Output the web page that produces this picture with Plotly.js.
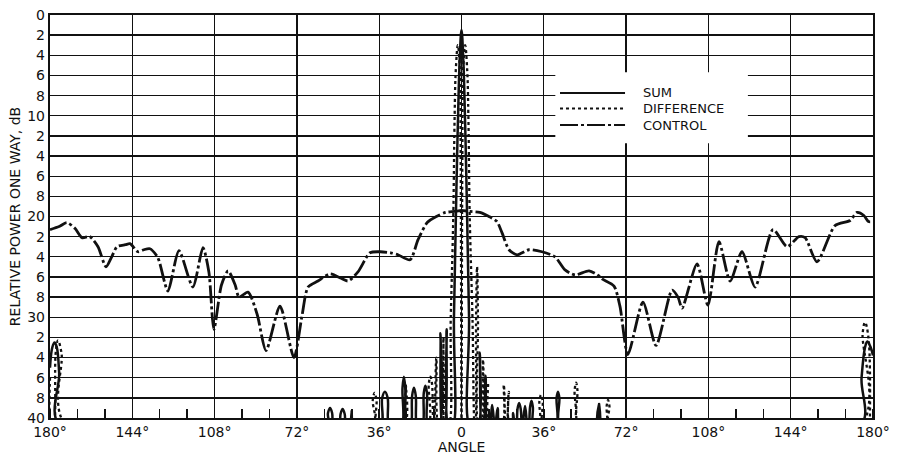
<!DOCTYPE html>
<html>
<head>
<meta charset="utf-8">
<script src="https://cdn.plot.ly/plotly-3.0.1.min.js"></script>
<style>
html,body{margin:0;padding:0;background:#fff;}
#chart{width:899px;height:455px;}
</style>
</head>
<body>
<div id="chart"></div>
<script>
// ---- Data (angle in degrees, relative power in dB; nulls below 40 dB are off-chart) ----
var ctrlAngle = [-180,-176,-172.6,-169,-166,-162.6,-159,-155.5,-153,-150.7,-147,-145,-141.5,-139,-136.3,-133,-131.9,-128.4,-123.6,-117.5,-113.1,-110.5,-108.3,-105,-102.1,-99,-97.3,-93.4,-89.4,-85.5,-79.4,-73.3,-69.8,-67.1,-62.8,-57.5,-53,-49.6,-45.3,-40,-35.6,-31,-27.8,-22.5,-19,-15,-11,-7,-3,0,3.7,8,12,15.5,17.7,20.8,24.3,29.5,35.2,40.9,45.3,49.7,55.8,60.1,61.5,66.7,69.3,72.8,79.4,85.1,92.1,94.7,96.5,103,107.8,112.6,117.5,122.7,128.4,136.3,142.4,147.6,150.3,155.5,163.4,170,173,176,178,180];
var ctrlDb    = [21.3,21.0,20.6,21.2,22.1,22.0,23.0,25.0,24.0,23.0,22.8,22.7,23.5,23.3,23.2,24.0,24.7,27.4,23.4,27.0,23.1,25.5,31.2,26.8,25.4,26.8,28.0,27.5,29.7,33.3,28.9,34.0,29.9,27.0,26.4,25.7,26.1,26.4,25.5,23.6,23.5,23.6,23.8,24.3,22.3,20.6,20.0,19.6,19.5,19.4,19.5,19.6,20.0,20.5,21.6,23.3,23.8,23.3,23.5,24.0,25.3,25.8,25.4,25.9,26.2,26.9,28.9,33.7,28.5,32.8,27.3,28.0,29.1,24.7,28.8,22.5,26.4,23.5,27.0,21.3,23.0,22.0,22.1,24.5,20.9,20.4,19.6,19.9,20.5,20.5];

var sumAngle = [-180,-179,-178,-177,-176,-175,
  -59.1,-58.4,-57.5,-56.6,-55.9, -53.6,-52.9,-52,-51.1,-50.4, -48.5,-48,-47.5,
  -35.7,-34.7,-33.5,-32.3,-31.3, -26.5,-25.8,-25.2,-24.6,-23.9,
  -22.4,-21.6,-20.8,-20,-19.2, -17.3,-16.5,-15.8,-15.1,-14.3,
  -10.2,-9.2,-8.2, -7.5,-6.5,-5.5,
  -4,-3.3,-2.2,-1.5,-0.8,0,0.8,1.5,2.2,3.3,4,
  7,8,9, 9.5,10.5,11.5, 12.2,13.4,14.6, 14.7,15.8,17, 21.8,22.6,23.4,
  23.9,24.5,25.2,25.9,26.5, 26.6,27.8,29, 29.3,30,30.6,31.2,31.9,
  41,41.6,42.2,42.8,43.4, 59.6,60.2,60.8,
  173.8,175,176.5,177.5,179,180];
var sumDb = [35.0,33.0,32.5,33.0,35.5,41,
  41,39.5,39.0,39.5,41, 41,39.6,39.1,39.6,41, 41,39.3,41,
  41,38.0,37.4,38.0,41, 41,37.0,35.9,37.0,41,
  41,37.8,37.0,37.8,41, 41,37.5,36.8,37.5,41,
  41,31.6,41, 41,31.2,41,
  41,30,17,10,4.5,1.5,4.5,10,17,30,41,
  41,33.5,41, 41,35.8,41, 41,38.7,41, 41,39.0,41, 41,39.5,41,
  41,39.1,38.5,39.1,41, 41,38.8,41, 41,38.9,38.3,38.9,41,
  41,38.0,37.4,38.0,41, 41,38.6,41,
  41,36,33,32.4,33,33.8];

var diffAngle = [-180,-179.4, -178.6,-177.5,-176.5,-175,-172,
  -39.5,-38.8,-38,-37.2,-36.5, -25.4,-24.3,-23.2,
  -15,-14.3,-13.6,-12.9,-12.2, -12.1,-11,-9.9, -8.8,-7.9,-7,
  -5.8,-4.7,-3.6,-3,-2.5,-1.6,-0.8,-0.35,0,0.35,0.8,1.6,2.5,3,3.6,4.8,5.9,
  6,6.4,6.8,7.2,7.6, 8.4,9.4,10.4, 10.6,11.6,12.6,
  17.4,18.5,19.5, 19.7,20.7,21.8,
  33.4,34.1,34.8,35.5,36.2, 48.8,49.5,50.1,50.7,51.4, 62.8,63.5,64.1,64.7,65.4,
  173.8,175.5,176.5,178,178.6];
var diffDb = [36,41, 41,33.5,32.3,33.5,41,
  41,38.2,37.5,38.2,41, 41,36.6,41,
  41,36.6,35.9,36.6,41, 41,34,41, 41,32,41,
  41,30,20,10,5.5,3.0,5,15,41,15,5,3.0,5.5,10,20,30,41,
  41,30,25,30,41, 41,34.2,41, 41,36.5,41,
  41,36.7,41, 41,37.4,41,
  41,38.3,37.7,38.3,41, 41,37.2,36.5,37.2,41, 41,38.8,38.2,38.8,41,
  41,31.5,30.5,32,41];

var xTickVals = [-180,-144,-108,-72,-36,0,36,72,108,144,180];
var xTickText = ['180°','144°','108°','72°','36°','0','36°','72°','108°','144°','180°'];
var yTickVals = [0,2,4,6,8,10,12,14,16,18,20,22,24,26,28,30,32,34,36,38,40];
var yTickText = ['0','2','4','6','8','10','2','4','6','8','20','2','4','6','8','30','2','4','6','8','40'];
var seriesNames = ['SUM','DIFFERENCE','CONTROL'];

var FONT = 'DejaVu Sans, Liberation Sans, Arial, sans-serif';
var INK = '#111111';
var DASH_SUM = 'solid', DASH_DIFF = 'dot', DASH_CTRL = '18px,3px,3px,3px';

var traces = [
  {x: sumAngle, y: sumDb, name: seriesNames[0], mode: 'lines', type: 'scatter',
   line: {color: INK, width: 2.5, dash: DASH_SUM, shape: 'spline', smoothing: 1.1}},
  {x: diffAngle, y: diffDb, name: seriesNames[1], mode: 'lines', type: 'scatter',
   line: {color: INK, width: 2.3, dash: DASH_DIFF, shape: 'spline', smoothing: 1.1}},
  {x: ctrlAngle, y: ctrlDb, name: seriesNames[2], mode: 'lines', type: 'scatter',
   line: {color: INK, width: 2.8, dash: DASH_CTRL, shape: 'spline', smoothing: 0.7}}
];

// legend drawn as a key in paper coordinates
var keyX0 = 0.6197, keyX1 = 0.6987, keyTextX = 0.7175;
var keyY = [0.8065, 0.768, 0.727];
var keyDash = [DASH_SUM, DASH_DIFF, DASH_CTRL];
var keyShapes = [
  {type: 'rect', xref: 'paper', yref: 'paper', x0: 0.614, x1: 0.848, y0: 0.682, y1: 0.858,
   fillcolor: '#ffffff', line: {width: 0}, layer: 'above'}
];
var keyAnn = [];
for (var i = 0; i < seriesNames.length; i++) {
  keyShapes.push({type: 'line', xref: 'paper', yref: 'paper', x0: keyX0, x1: keyX1, y0: keyY[i], y1: keyY[i],
                  line: {color: INK, width: 2, dash: keyDash[i]}, layer: 'above'});
  keyAnn.push({xref: 'paper', yref: 'paper', x: keyTextX, y: keyY[i], xanchor: 'left', yanchor: 'middle',
               text: seriesNames[i], showarrow: false, font: {family: FONT, size: 13, color: INK}});
}

var layout = {
  width: 899, height: 455,
  margin: {l: 50, r: 26, t: 15, b: 37},
  paper_bgcolor: '#ffffff', plot_bgcolor: '#ffffff',
  font: {family: FONT, color: INK, size: 13},
  showlegend: false,
  xaxis: {
    range: [-180, 180], tickmode: 'array', tickvals: xTickVals, ticktext: xTickText,
    showgrid: true, gridcolor: INK, gridwidth: 1.4, zeroline: false,
    showline: true, linecolor: INK, linewidth: 2.4, mirror: true,
    ticks: '', tickfont: {size: 14, family: FONT, color: INK},
    minor: {tickmode: 'linear', dtick: 12, tick0: 0, ticks: 'inside', ticklen: 9, tickwidth: 1.5, tickcolor: INK, showgrid: false},
    title: {text: 'ANGLE', font: {size: 14, family: FONT, color: INK}, standoff: 0},
    fixedrange: true
  },
  yaxis: {
    range: [40, 0], tickmode: 'array', tickvals: yTickVals, ticktext: yTickText,
    showgrid: true, gridcolor: INK, gridwidth: 1.4, zeroline: false,
    showline: true, linecolor: INK, linewidth: 2.2, mirror: true,
    ticks: '', tickfont: {size: 14, family: FONT, color: INK},
    title: {text: 'RELATIVE POWER ONE WAY, dB', font: {size: 14, family: FONT, color: INK}, standoff: 3},
    fixedrange: true
  },
  shapes: keyShapes,
  annotations: keyAnn
};

Plotly.newPlot('chart', traces, layout, {displayModeBar: false, staticPlot: true});
</script>
</body>
</html>
